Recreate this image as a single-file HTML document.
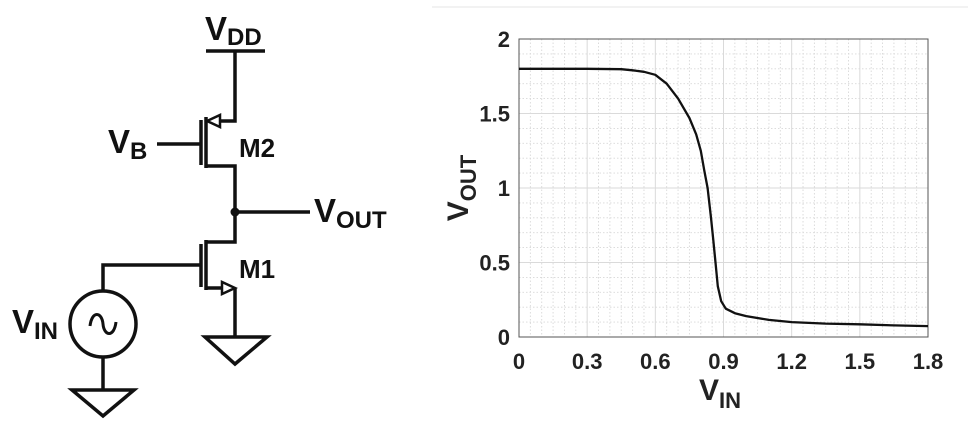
<!DOCTYPE html>
<html><head><meta charset="utf-8"><style>
html,body{margin:0;padding:0;background:#fff;}
svg{display:block;font-family:"Liberation Sans",Arial,sans-serif;font-weight:bold;}
</style></head><body>
<svg width="968" height="422" viewBox="0 0 968 422">
<g stroke="#111" stroke-width="3.5" fill="none">
  <line x1="206" y1="51" x2="265" y2="51"/>
  <polyline points="235,51 235,121 212,121"/>
  <polygon points="207,121 220,115 220,127" fill="#fff" stroke-width="2.5"/>
  <line x1="206" y1="117" x2="206" y2="168"/>
  <line x1="201" y1="120" x2="201" y2="165"/>
  <line x1="157" y1="144" x2="201" y2="144"/>
  <polyline points="206,166 235,166 235,242 206,242"/>
  <line x1="235" y1="212" x2="310" y2="212"/>
  <circle cx="235" cy="212" r="4.5" fill="#111" stroke="none"/>
  <line x1="206" y1="240" x2="206" y2="290"/>
  <line x1="201" y1="244" x2="201" y2="287"/>
  <polyline points="201,265 103,265 103,292"/>
  <polyline points="206,288 224,288"/>
  <polygon points="235,288 222,282 222,294" fill="#fff" stroke-width="2.5"/>
  <line x1="235" y1="288" x2="235" y2="337"/>
  <polygon points="205,337 267,337 235,364"/>
  <circle cx="103" cy="324" r="33"/>
  <path d="M90,326 C92,310 102,312 103,324 C104,336 114,338 116,322" stroke-width="3"/>
  <line x1="103" y1="357" x2="103" y2="390"/>
  <polygon points="72,390 134,390 103,416"/>
</g>
<g fill="#111">
  <text x="205" y="40" font-size="33">V<tspan font-size="24" dy="5">DD</tspan></text>
  <text x="108" y="153" font-size="33">V<tspan font-size="24" dy="6">B</tspan></text>
  <text x="239" y="157" font-size="26">M2</text>
  <text x="314" y="222" font-size="33">V<tspan font-size="24" dy="6">OUT</tspan></text>
  <text x="239" y="278" font-size="26">M1</text>
  <text x="12" y="333" font-size="33">V<tspan font-size="24" dy="6">IN</tspan></text>
</g>
<line x1="432" y1="7" x2="968" y2="7" stroke="#eee" stroke-width="1.5"/>
<g id="chart"></g>
</svg>
<script>
const vinValues=[0,0.3,0.45,0.5,0.55,0.6,0.65,0.7,0.75,0.78,0.8,0.815,0.83,0.845,0.855,0.865,0.875,0.89,0.91,0.95,1.0,1.1,1.2,1.35,1.5,1.65,1.8];
const voutValues=[1.8,1.8,1.797,1.79,1.78,1.76,1.7,1.6,1.47,1.36,1.25,1.12,1.0,0.8,0.65,0.5,0.34,0.24,0.19,0.16,0.14,0.115,0.1,0.09,0.085,0.078,0.073];
const xTicks=[0,0.3,0.6,0.9,1.2,1.5,1.8];
const xTickLabels=["0","0.3","0.6","0.9","1.2","1.5","1.8"];
const yTicks=[0,0.5,1,1.5,2];
const yTickLabels=["0","0.5","1","1.5","2"];
const L=519,R=928,T=39,B=337;
const sx=v=>L+(v-0)/(1.8-0)*(R-L);
const sy=v=>B-(v-0)/(2-0)*(B-T);
const NS="http://www.w3.org/2000/svg";
const g=document.getElementById('chart');
function mk(tag,attrs,parent){const e=document.createElementNS(NS,tag);for(const k in attrs)e.setAttribute(k,attrs[k]);(parent||g).appendChild(e);return e;}
for(let i=1;i<36;i++){const v=i*0.05;if(Math.abs(v/0.3-Math.round(v/0.3))<1e-6)continue;
 const l=mk('line',{x1:sx(v),x2:sx(v),y1:T,y2:B,stroke:'#d8d8d8','stroke-width':0.9,'stroke-dasharray':'1.5 2'});
 
 }
for(let i=1;i<20;i++){const v=i*0.1;if(i%5===0)continue;
 const l=mk('line',{x1:L,x2:R,y1:sy(v),y2:sy(v),stroke:'#d8d8d8','stroke-width':0.9,'stroke-dasharray':'1.5 2'});
 
 }
xTicks.forEach((v,i)=>{
 const l=mk('line',{x1:sx(v),x2:sx(v),y1:T,y2:B,stroke:'#dadada','stroke-width':1});
 
 
 const t=mk('text',{x:sx(v),y:B+32,'text-anchor':'middle','font-size':22,fill:'#222'});
 t.textContent=xTickLabels[i];
 
 });
yTicks.forEach((v,i)=>{
 const l=mk('line',{x1:L,x2:R,y1:sy(v),y2:sy(v),stroke:'#dadada','stroke-width':1});
 
 
 const t=mk('text',{x:L-9,y:sy(v)+8,'text-anchor':'end','font-size':22,fill:'#222'});
 t.textContent=yTickLabels[i];
 
 });
const box=mk('rect',{x:L,y:T,width:R-L,height:B-T,fill:'none',stroke:'#555','stroke-width':1});


let d='';vinValues.forEach((v,i)=>{d+=(i?'L':'M')+sx(v).toFixed(1)+','+sy(voutValues[i]).toFixed(1);});
const p=mk('path',{d:d,fill:'none',stroke:'#111','stroke-width':2.3,'stroke-linejoin':'round'});


const xl=mk('text',{x:720,y:400,'text-anchor':'middle','font-size':30,fill:'#222'});
xl.innerHTML='V<tspan font-size="22" dy="8">IN</tspan>';


const yl=mk('text',{x:0,y:0,'text-anchor':'middle','font-size':30,fill:'#222',transform:'translate(468,188) rotate(-90)'});
yl.innerHTML='V<tspan font-size="22" dy="8">OUT</tspan>';


</script>
</body></html>
